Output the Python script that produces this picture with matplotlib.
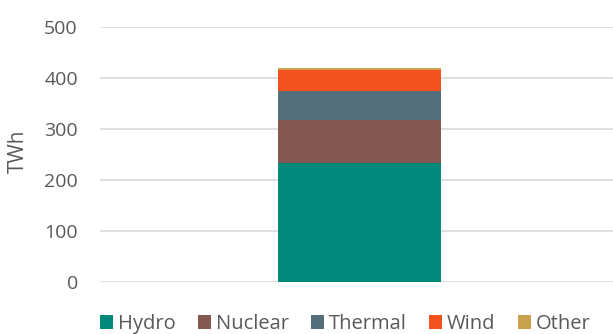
import matplotlib.pyplot as plt

# generation mix, TWh
sources = ['Hydro', 'Nuclear', 'Thermal', 'Wind', 'Other']
twh = [233, 85, 57, 41, 4]
colors = ['#00897B', '#855952', '#546E7A', '#F4511E', '#C9A24E']

plt.rcParams['font.family'] = ['Open Sans', 'DejaVu Sans']
text_color = '#595959'

fig = plt.figure(figsize=(6.13, 3.34), dpi=100)
ax = fig.add_axes([100 / 613, 52 / 334, 519 / 613, 255 / 334])

bottom = 0
for name, val, col in zip(sources, twh, colors):
    ax.bar(0, val, width=0.314, bottom=bottom, color=col, label=name, zorder=3)
    bottom += val

ax.set_xlim(-0.5, 0.5)
ax.set_ylim(0, 500)
ax.set_yticks(range(0, 501, 100))
ax.set_xticks([])
ax.grid(axis='y', color='#d9d9d9', linewidth=1.2, zorder=0)
for s in ax.spines.values():
    s.set_visible(False)
ax.tick_params(axis='y', length=0, pad=16, labelsize=14, labelcolor=text_color)
ax.set_ylabel('TWh', fontsize=15, color=text_color)
ax.yaxis.set_label_coords(-0.137, 0.514)

fig.legend(loc='center', bbox_to_anchor=(0.563, 0.03), ncol=5, frameon=False,
           fontsize=14.5, labelcolor=text_color, handlelength=0.65, handleheight=0.65,
           handletextpad=0.25, columnspacing=1.1, borderpad=0)

fig.savefig('out.png', dpi=100)
